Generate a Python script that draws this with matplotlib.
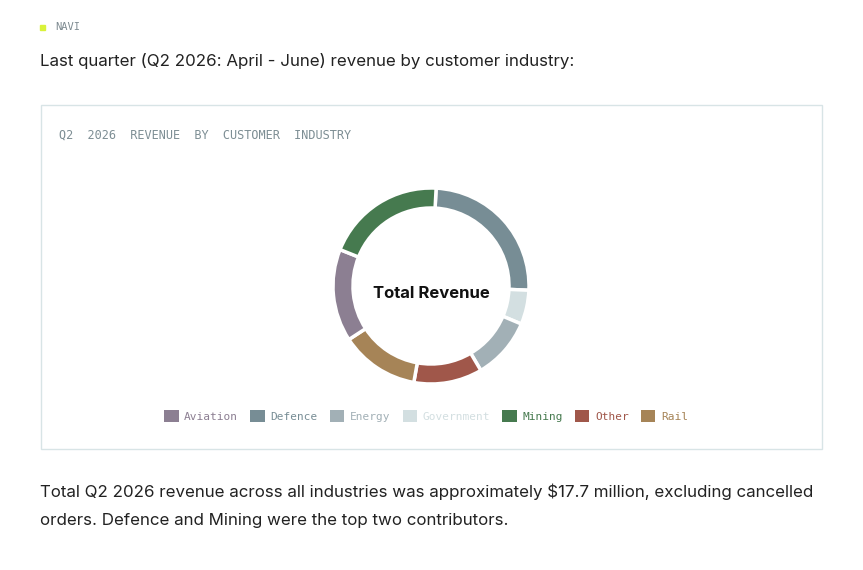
import matplotlib
matplotlib.use("Agg")
import matplotlib.pyplot as plt
from matplotlib.patches import Rectangle, Patch

# Q2 2026 revenue by industry ($M), drawn clockwise from 12 o'clock
industries = ["Defence", "Government", "Energy", "Other", "Rail", "Aviation", "Mining"]
revenue = [4.4, 1.0, 1.8, 2.0, 2.3, 2.7, 3.5]
colors = {
    "Aviation": "#8c7f92", "Defence": "#778d95", "Energy": "#a2b0b6",
    "Government": "#d3dfe1", "Mining": "#467a4f", "Other": "#a0574a", "Rail": "#a68457",
}
legend_order = ["Aviation", "Defence", "Energy", "Government", "Mining", "Other", "Rail"]

W, H = 863, 570
fig = plt.figure(figsize=(W / 100, H / 100), dpi=100)
fig.patch.set_facecolor("white")

def fx(x): return x / W
def fy(y): return 1 - y / H

mono = "DejaVu Sans Mono"
sans = ["Inter", "DejaVu Sans"]

# header bits
fig.patches.append(Rectangle((fx(40), fy(30)), 5 / W, 5 / H, transform=fig.transFigure,
                             color="#d9f23a"))
fig.text(fx(55), fy(27), "NAVI", family=mono, fontsize=7.5, color="#7d8a90", va="center")
fig.text(fx(40), fy(61), "Last quarter (Q2 2026: April - June) revenue by customer industry:",
         family=sans, fontsize=12.2, color="#222222", va="center")

# card
fig.patches.append(Rectangle((fx(41), fy(449)), 781 / W, 344 / H, transform=fig.transFigure,
                             fill=False, edgecolor="#d8e4e6", linewidth=1))
fig.text(fx(59), fy(135), "Q2  2026  REVENUE  BY  CUSTOMER  INDUSTRY", family=mono,
         fontsize=8.6, color="#7d8e94", va="center")

# donut
cx, cy, r = 431, 286, 100
ax = fig.add_axes([fx(cx - r), fy(cy + r), 2 * r / W, 2 * r / H])
ax.pie(revenue, colors=[colors[i] for i in industries], startangle=90 - 3,
       counterclock=False, radius=0.98,
       wedgeprops=dict(width=0.2, edgecolor="white", linewidth=2.5))
ax.set_xlim(-1, 1)
ax.set_ylim(-1, 1)
ax.set_aspect("equal")
ax.axis("off")
ax.text(0, -0.08, "Total Revenue", ha="center", va="center", family=sans,
        fontsize=12, fontweight="bold", color="#111111")

# legend
handles = [Patch(facecolor=colors[n], edgecolor="none") for n in legend_order]
fig.legend(handles, legend_order, loc="center", bbox_to_anchor=(fx(426), fy(416)),
           ncol=7, frameon=False, prop={"family": mono, "size": 8},
           labelcolor=[colors[n] for n in legend_order],
           handlelength=1.3, handleheight=1.3, handletextpad=0.5, columnspacing=1.1)

# footer text
fig.text(fx(40), fy(492), "Total Q2 2026 revenue across all industries was approximately $17.7 million, excluding cancelled",
         family=sans, fontsize=12.2, color="#222222", va="center")
fig.text(fx(40), fy(521), "orders. Defence and Mining were the top two contributors.",
         family=sans, fontsize=12.2, color="#222222", va="center")

fig.savefig("out.png", dpi=100)
